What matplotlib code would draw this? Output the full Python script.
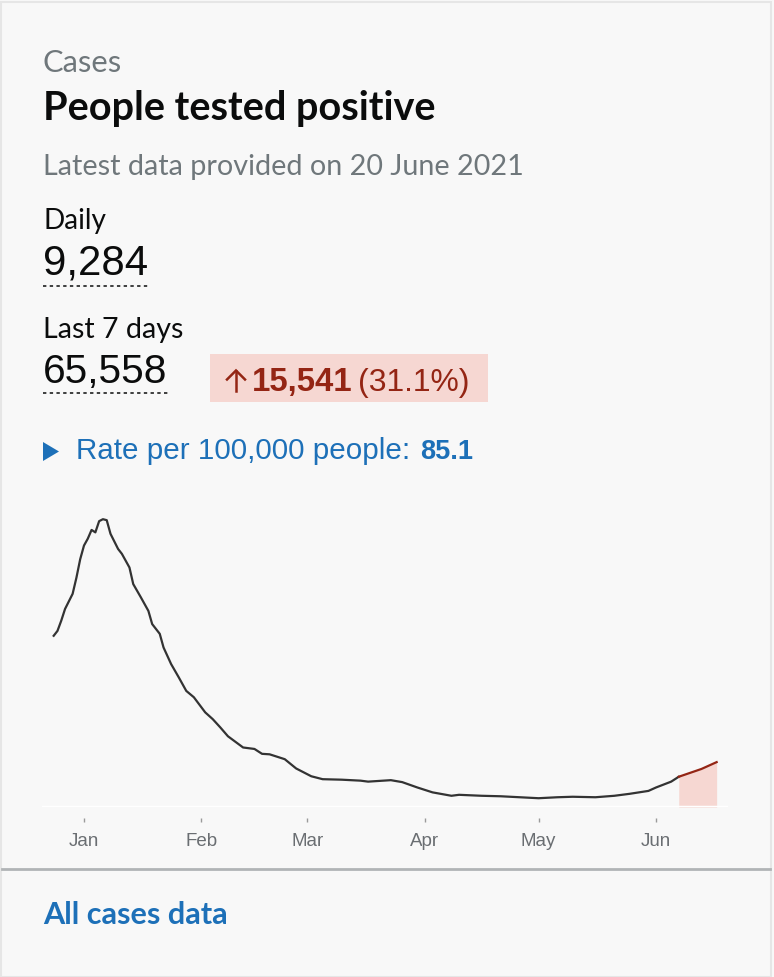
import pandas as pd
import numpy as np
import matplotlib
matplotlib.use("Agg")
import matplotlib.pyplot as plt
import matplotlib.dates as mdates
from matplotlib.patches import Rectangle

# 7-day average of people tested positive
dates = ["2020-12-24", "2020-12-25", "2020-12-26", "2020-12-27", "2020-12-29", "2020-12-30",
         "2020-12-31", "2021-01-01", "2021-01-02", "2021-01-03", "2021-01-04", "2021-01-05",
         "2021-01-06", "2021-01-07", "2021-01-08", "2021-01-10", "2021-01-11", "2021-01-13",
         "2021-01-14", "2021-01-16", "2021-01-18", "2021-01-19", "2021-01-21", "2021-01-22",
         "2021-01-24", "2021-01-26", "2021-01-28", "2021-01-30", "2021-02-02", "2021-02-04",
         "2021-02-06", "2021-02-08", "2021-02-12", "2021-02-15", "2021-02-17", "2021-02-19",
         "2021-02-23", "2021-02-26", "2021-03-02", "2021-03-05", "2021-03-10", "2021-03-15",
         "2021-03-17", "2021-03-23", "2021-03-26", "2021-03-30", "2021-04-03", "2021-04-08",
         "2021-04-10", "2021-04-16", "2021-04-21", "2021-04-26", "2021-05-01", "2021-05-06",
         "2021-05-10", "2021-05-16", "2021-05-21", "2021-05-25", "2021-05-30", "2021-06-01",
         "2021-06-05", "2021-06-07", "2021-06-10", "2021-06-13", "2021-06-17"]
cases = [35100, 36100, 38200, 40600, 43700, 47000,
         50800, 53600, 55000, 56800, 56300, 58600,
         59000, 58800, 56000, 52900, 51900, 49100,
         45700, 43000, 40200, 37500, 35500, 32700,
         29300, 26600, 23800, 22500, 19400, 18000,
         16300, 14500, 12200, 11900, 10900, 10800,
         9800, 7900, 6300, 5700, 5600, 5400,
         5200, 5500, 5100, 4000, 3000, 2300,
         2500, 2300, 2200, 2000, 1800, 2000,
         2100, 2000, 2300, 2700, 3300, 4000,
         5200, 6200, 7000, 7800, 9200]
recent_start = "2021-06-07"

daily = "9,284"
last7 = "65,558"
change = "15,541"
change_pct = "(31.1%)"
rate = "85.1"

W, H = 774, 978
bg = "#f8f8f8"
grey = "#6f777b"
black = "#0b0c0c"
red = "#942514"
pink = "#f6d7d2"
blue = "#1d70b8"

fig = plt.figure(figsize=(W / 100, H / 100), dpi=100, facecolor=bg)
renderer = fig.canvas.get_renderer()


def put(x, y, s, width, **kw):
    # place text at pixel position (baseline), scaled so it spans `width` px
    t = fig.text(x / W, 1 - y / H, s, va="baseline", ha="left", fontsize=20, **kw)
    bb = t.get_window_extent(renderer)
    t.set_fontsize(20 * width / bb.width)
    return t


def line(xs, ys, **kw):
    fig.add_artist(plt.Line2D([x / W for x in xs], [1 - y / H for y in ys], **kw))


def dotted(x0, x1, y):
    line([x0, x1], [y, y], color=black, lw=1.1, linestyle=(0, (2.2, 2.2)))


head = "Lato"
num = "Liberation Sans"

# card border
fig.add_artist(Rectangle((0.5 / W, 0.5 / H), (W - 4) / W, (H - 3) / H, transform=fig.transFigure,
                         facecolor="none", edgecolor="#e6e6e6", lw=1.5))

put(43, 72, "Cases", 79, family=head, color=grey)
put(43, 120, "People tested positive", 394, family=head, color=black, weight="bold")
put(43, 175, "Latest data provided on 20 June 2021", 482, family=head, color=grey)

put(43, 229, "Daily", 63, family=head, color=black)
put(43, 275, daily, 105, family=num, color=black)
dotted(43, 148, 287)

put(43, 338, "Last 7 days", 140, family=head, color=black)
put(43, 383, last7, 125, family=num, color=black)
dotted(43, 170, 394)

fig.add_artist(Rectangle((210 / W, 1 - 403 / H), 278 / W, 48 / H, transform=fig.transFigure,
                         facecolor=pink, edgecolor="none"))
# up arrow
line([236, 236], [371.5, 392], color=red, lw=1.8)
line([227, 236, 245], [380.5, 371.5, 380.5], color=red, lw=1.8, solid_joinstyle="miter")
put(252, 391, change, 101, family=num, color=red, weight="bold")
put(358, 391, change_pct, 112, family=num, color=red)

fig.add_artist(plt.Polygon([[43 / W, 1 - 443 / H], [43 / W, 1 - 462 / H], [59 / W, 1 - 452.5 / H]],
                           closed=True, facecolor=blue, edgecolor="none", transform=fig.transFigure))
put(76, 459, "Rate per 100,000 people:", 334, family=num, color=blue)
fig.text(420 / W, 1 - 459 / H, rate, va="baseline", ha="left", fontsize=19.5,
         family=num, color=blue, weight="bold")

# chart
d = pd.to_datetime(dates)
v = np.array(cases)
ax = fig.add_axes([42 / W, 1 - 808 / H, (728 - 42) / W, (808 - 500) / H])
ax.set_facecolor(bg)
mask = d >= pd.Timestamp(recent_start)
ax.fill_between(d[mask], 0, v[mask], color=pink, lw=0)
ax.plot(d[d <= pd.Timestamp(recent_start)], v[d <= pd.Timestamp(recent_start)], color="#333333", lw=1.6)
ax.plot(d[mask], v[mask], color=red, lw=1.6)
ax.axhline(0, color="white", lw=2.5)
ax.set_xlim(pd.Timestamp("2020-12-20 22:00"), pd.Timestamp("2021-06-20"))
ax.set_ylim(0, 63140)
for s in ["top", "right", "left"]:
    ax.spines[s].set_visible(False)
ax.spines["bottom"].set_position(("outward", 8))
ax.spines["bottom"].set_visible(False)
ax.set_yticks([])
ax.xaxis.set_major_locator(mdates.MonthLocator())
ax.xaxis.set_major_formatter(mdates.DateFormatter("%b"))
ax.tick_params(axis="x", length=3, width=1, color="#9a9a9a", pad=7, labelsize=13.5, labelcolor="#6a6e72")
for lab in ax.get_xticklabels():
    lab.set_family(num)

# footer
line([2, 770], [870, 870], color="#b1b4b6", lw=2)
put(43, 924, "All cases data", 185, family=head, color=blue, weight="bold")

fig.savefig("out.png", dpi=100, facecolor=bg)
